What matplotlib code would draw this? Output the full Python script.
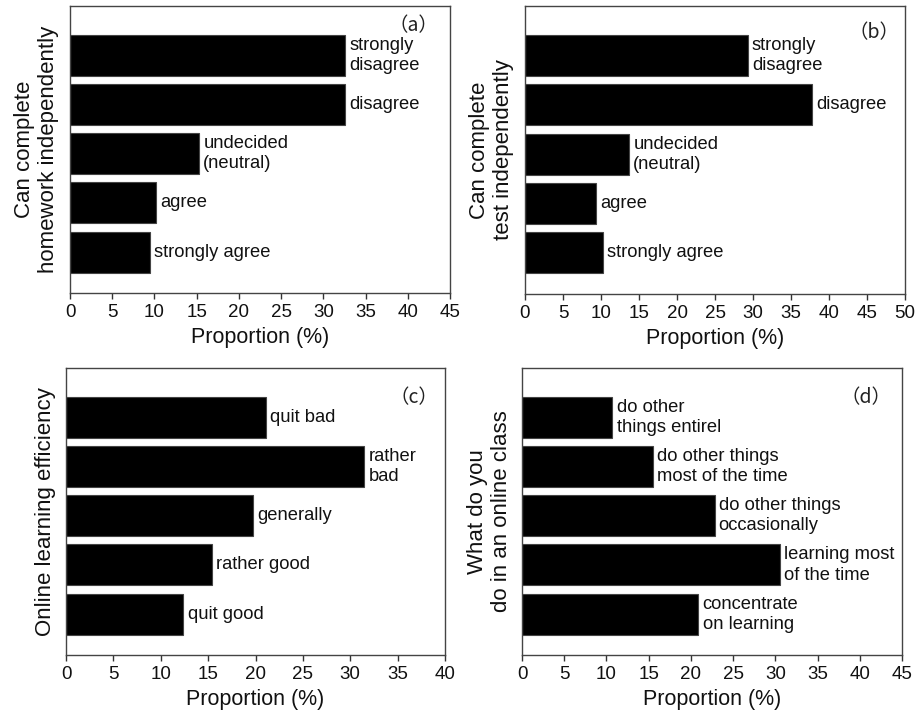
import matplotlib
matplotlib.use('Agg')
import numpy as np
from matplotlib import pyplot as plt

plt.rcParams['font.family'] = ['Liberation Sans', 'DejaVu Sans']

# panel (a)
cats_a = ['strongly\ndisagree', 'disagree', 'undecided\n(neutral)', 'agree', 'strongly agree']
vals_a = [32.6, 32.6, 15.3, 10.2, 9.5]
# panel (b)
cats_b = ['strongly\ndisagree', 'disagree', 'undecided\n(neutral)', 'agree', 'strongly agree']
vals_b = [29.3, 37.8, 13.7, 9.3, 10.2]
# panel (c)
cats_c = ['quit bad', 'rather\nbad', 'generally', 'rather good', 'quit good']
vals_c = [21.1, 31.5, 19.7, 15.4, 12.4]
# panel (d)
cats_d = ['do other\nthings entirel', 'do other things\nmost of the time',
          'do other things\noccasionally', 'learning most\nof the time',
          'concentrate\non learning']
vals_d = [10.7, 15.5, 22.8, 30.5, 20.9]

ylabels = ['Can complete\nhomework independently', 'Can complete\ntest independently',
           'Online learning efficiency', 'What do you\ndo in an online class']
panel_tags = ['（a）', '（b）', '（c）', '（d）']
xmax = [45, 50, 40, 45]

W, H = 918, 713
fig = plt.figure(figsize=(W / 100, H / 100), dpi=100)

# axes boxes in pixels: left, top, right, bottom
boxes = [(70, 6, 450, 293), (525, 6, 905, 294), (66, 368, 445, 655), (522, 368, 902, 655)]
tag_pos = [(0.905, 0.93), (0.918, 0.908), (0.918, 0.897), (0.905, 0.897)]
ypads = [8, 8, 7, 7]

data = [(cats_a, vals_a), (cats_b, vals_b), (cats_c, vals_c), (cats_d, vals_d)]

for i, (cats, vals) in enumerate(data):
    l, t, r, b = boxes[i]
    ax = fig.add_axes([l / W, (H - b) / H, (r - l) / W, (b - t) / H])
    pos = np.arange(len(vals))[::-1]
    ax.barh(pos, vals, height=0.83, color='black', edgecolor='#444444', linewidth=0.8)
    for p, v, c in zip(pos, vals, cats):
        ax.annotate(c, (v, p), xytext=(3, 0), textcoords='offset points',
                    ha='left', va='center', fontsize=13.2, color='#111111', linespacing=1.25)
    ax.set_xlim(0, xmax[i])
    ax.set_ylim(-0.83, 5.0)
    ax.set_xticks(np.arange(0, xmax[i] + 1, 5))
    ax.set_yticks([])
    ax.tick_params(axis='x', direction='out', length=4, width=1, labelsize=13.5,
                   colors='#333333', labelcolor='#111111', pad=4)
    for s in ax.spines.values():
        s.set_color('#444444')
        s.set_linewidth(1)
    ax.set_xlabel('Proportion (%)', fontsize=15.5, color='#111111', labelpad=4)
    ax.set_ylabel(ylabels[i], fontsize=16, color='#111111', labelpad=ypads[i], linespacing=1.2)
    ax.text(tag_pos[i][0], tag_pos[i][1], panel_tags[i], transform=ax.transAxes,
            ha='center', va='center', fontsize=14, color='#222222',
            family=['Noto Sans CJK SC', 'DejaVu Sans'])

fig.savefig('out.png', dpi=100)
